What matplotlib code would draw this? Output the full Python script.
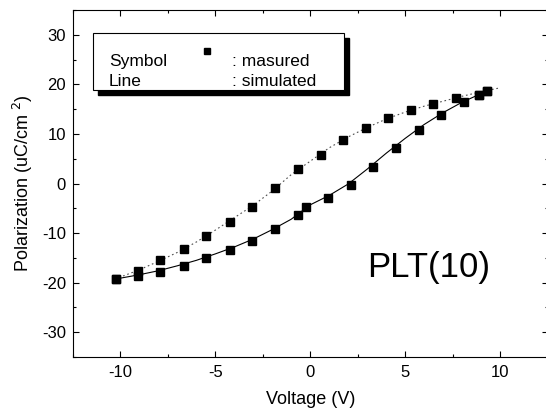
import matplotlib
matplotlib.use("Agg")
import matplotlib.pyplot as plt
from matplotlib.patches import Rectangle
from matplotlib.ticker import MultipleLocator

plt.rcParams['font.family'] = ['Liberation Sans', 'DejaVu Sans']
plt.rcParams['axes.unicode_minus'] = False

# medidos: rama superior e inferior del lazo
v_sup = [-10.23, -9.07, -7.9, -6.67, -5.47, -4.25, -3.07, -1.88, -0.67, 0.56, 1.75, 2.93,
         4.12, 5.32, 6.49, 7.68, 8.88, 9.3]
p_sup = [-19.3, -17.6, -15.5, -13.2, -10.5, -7.7, -4.7, -1.0, 2.9, 5.8, 8.8, 11.25,
         13.3, 14.75, 16.1, 17.2, 17.8, 18.65]
v_inf = [-10.23, -9.07, -7.9, -6.67, -5.47, -4.25, -3.07, -1.88, -0.67, -0.25, 0.91, 2.14,
         3.3, 4.53, 5.74, 6.91, 8.1, 8.88, 9.3]
p_inf = [-19.3, -18.6, -17.8, -16.7, -15.1, -13.4, -11.5, -9.2, -6.35, -4.8, -3.0, -0.4,
         3.4, 7.2, 10.7, 13.8, 16.5, 17.8, 18.65]

# simulados
vs_sup = [-10.3, -9, -8, -7, -6, -5, -4, -3, -2, -1, 0, 1, 2, 3, 4, 5, 6, 7, 8, 9, 10]
ps_sup = [-19.3, -17.4, -15.7, -13.9, -11.8, -9.4, -6.9, -4.4, -1.5, 1.8, 4.5, 7.2,
          9.4, 11.3, 13.0, 14.4, 15.6, 16.6, 17.6, 18.5, 19.3]
vs_inf = [-10.3, -9, -8, -7, -6, -5, -4, -3, -2, -1, 0, 1, 2, 3, 4, 5, 6, 7, 8, 9.3]
ps_inf = [-19.3, -18.4, -17.6, -16.6, -15.5, -14.2, -12.8, -11.2, -9.3, -7.2, -4.3, -2.4,
          -0.1, 2.9, 6.1, 9.1, 11.9, 14.3, 16.4, 18.65]

fig = plt.figure(figsize=(5.46, 4.2), dpi=100)
ax = fig.add_axes([73 / 546, 1 - 357 / 420, 474.5 / 546, 347 / 420])

ax.plot(vs_sup, ps_sup, color='0.3', lw=0.8, ls=(0, (1.5, 2.5)))
ax.plot(vs_inf, ps_inf, color='black', lw=0.8)
ax.plot(v_sup, p_sup, 's', color='black', ms=5.2, ls='none')
ax.plot(v_inf, p_inf, 's', color='black', ms=5.2, ls='none')

ax.set_xlim(-12.5, 12.5)
ax.set_ylim(-35, 35)
ax.xaxis.set_major_locator(MultipleLocator(5))
ax.xaxis.set_minor_locator(MultipleLocator(2.5))
ax.yaxis.set_major_locator(MultipleLocator(10))
ax.yaxis.set_minor_locator(MultipleLocator(5))
ax.tick_params(which='both', direction='in', top=True, right=True, labelsize=12)
ax.tick_params(which='major', length=4.5, width=0.8)
ax.tick_params(which='minor', length=2.2, width=0.8)
ax.tick_params(axis='x', pad=6)
ax.tick_params(axis='y', pad=5)
for s in ax.spines.values():
    s.set_linewidth(0.8)

ax.set_xlabel('Voltage (V)', fontsize=13, labelpad=8)
ax.set_ylabel('Polarization (uC/cm $^2$)', fontsize=13, labelpad=5)

# cuadro de leyenda con sombra
ax.add_patch(Rectangle((0.0428 + 0.0105, 0.7695 - 0.0144), 0.529, 0.1635,
                       transform=ax.transAxes, facecolor='black', edgecolor='black', zorder=4))
ax.add_patch(Rectangle((0.0428, 0.7695), 0.529, 0.1635, transform=ax.transAxes,
                       facecolor='white', edgecolor='black', lw=0.8, zorder=5))
ax.text(0.0759, 0.851, 'Symbol', transform=ax.transAxes, fontsize=12.5, va='center', zorder=6)
ax.text(0.0759, 0.793, 'Line', transform=ax.transAxes, fontsize=12.5, va='center', zorder=6)
ax.plot([0.2818], [0.883], 's', color='black', ms=4.5, transform=ax.transAxes, zorder=6)
ax.text(0.3345, 0.851, ': masured', transform=ax.transAxes, fontsize=12.5, va='center', zorder=6)
ax.text(0.3345, 0.793, ': simulated', transform=ax.transAxes, fontsize=12.5, va='center', zorder=6)

ax.text(0.62, 0.2565, 'PLT(10)', transform=ax.transAxes, fontsize=25, va='center')

fig.savefig('out.png', dpi=100)
